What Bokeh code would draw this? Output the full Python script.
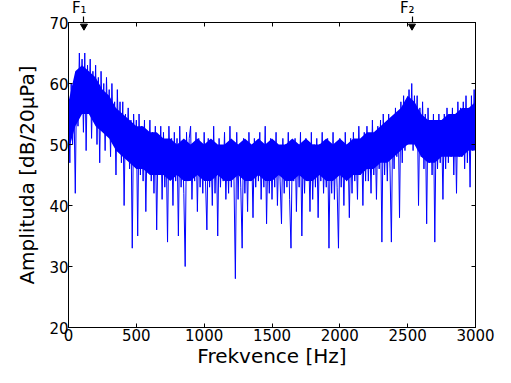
from bokeh.plotting import figure
from bokeh.models import Range1d, LinearAxis, FixedTicker
from bokeh.embed import file_html
from bokeh.resources import INLINE

# frequency grid (Hz), 10 Hz step
freq = list(range(0, 3001, 10))

# amplitude values (dB re 20 uPa), 10 Hz apart
amp = [
    55, 47, 60, 50, 57, 42, 61, 53, 65, 56,   # 0-90
    64, 52, 65, 49, 63, 55, 64, 51, 62, 54,   # 100-190
    63, 50, 61, 47, 62, 53, 60, 49, 61, 52,   # 200-290
    59, 48, 60, 51, 57, 45, 59, 50, 57, 47,   # 300-390
    57, 40, 55, 48, 56, 46, 54, 33, 55, 47,   # 400-490
    54, 35, 55, 45, 53, 44, 54, 39, 52, 46,   # 500-590
    54, 44, 52, 42, 53, 36, 51, 45, 53, 41,   # 600-690
    52, 43, 50, 34, 53, 45, 51, 40, 52, 44,   # 700-790
    51, 35, 53, 43, 50, 42, 30, 52, 44, 51,   # 800-890
    53, 41, 50, 44, 52, 39, 51, 43, 49, 42,   # 900-990
    52, 44, 36, 51, 43, 50, 40, 53, 42, 50,   # 1000-1090
    35, 51, 43, 49, 44, 52, 41, 50, 42, 53,   # 1100-1190
    43, 50, 44, 28, 52, 41, 50, 43, 33, 51,   # 1200-1290
    42, 50, 39, 52, 44, 49, 38, 51, 43, 50,   # 1300-1390
    44, 52, 41, 50, 43, 53, 37, 50, 42, 51,   # 1400-1490
    41, 50, 43, 52, 40, 49, 44, 37, 51, 42,   # 1500-1590
    50, 43, 52, 41, 33, 50, 44, 51, 39, 50,   # 1600-1690
    43, 52, 35, 50, 42, 51, 44, 49, 39, 52,   # 1700-1790
    41, 50, 43, 51, 38, 50, 44, 52, 42, 49,   # 1800-1890
    43, 51, 33, 50, 42, 52, 41, 50, 43, 33,   # 1900-1990
    51, 43, 50, 40, 52, 44, 50, 38, 51, 42,   # 2000-2090
    52, 44, 50, 41, 53, 45, 51, 40, 52, 44,   # 2100-2190
    53, 44, 51, 42, 54, 45, 52, 41, 53, 46,   # 2200-2290
    54, 34, 55, 45, 53, 44, 55, 46, 34, 54,   # 2300-2390
    46, 56, 48, 55, 38, 57, 47, 58, 49, 57,   # 2400-2490
    50, 59, 51, 60, 49, 58, 50, 58, 40, 56,   # 2500-2590
    48, 57, 46, 55, 37, 56, 47, 54, 45, 55,   # 2600-2690
    34, 54, 46, 55, 47, 53, 41, 55, 46, 56,   # 2700-2790
    47, 55, 48, 56, 45, 55, 42, 57, 48, 56,   # 2800-2890
    48, 57, 46, 58, 47, 56, 43, 58, 49, 59,   # 2900-2990
    50,                                       # 3000
]

# dense (solid) core of the trace, 50 Hz apart
core_freq = list(range(0, 3001, 50))
core_hi = [57, 62, 63, 62, 61, 59, 58, 56, 55, 54,
           53, 53, 52, 52, 51, 51, 50, 51, 50, 51,
           50, 51, 50, 50, 51, 50, 51, 50, 51, 50,
           51, 50, 50, 51, 50, 51, 50, 50, 51, 50,
           51, 50, 51, 51, 52, 52, 53, 54, 55, 56,
           58, 57, 55, 54, 54, 54, 55, 55, 56, 56,
           57]
core_lo = [49, 53, 55, 55, 53, 52, 51, 49, 48, 47,
           46, 46, 45, 45, 45, 44, 45, 44, 44, 45,
           44, 44, 45, 44, 44, 45, 44, 44, 45, 44,
           44, 45, 44, 44, 45, 44, 44, 45, 44, 44,
           45, 44, 45, 45, 46, 46, 47, 47, 48, 49,
           50, 50, 48, 47, 47, 48, 48, 48, 48, 49,
           49]

# marker annotations (F1, F2)
mark_freq = [114, 2532]
mark_text = ["F\u2081\u00a0\u00a0", "F\u2082\u00a0\u00a0"]
mark_level = [69.4, 69.4]

x_ticks = [0, 500, 1000, 1500, 2000, 2500, 3000]
y_ticks = [20, 30, 40, 50, 60, 70]

FONT = "DejaVu Sans"
BLUE = "#0000ff"

p = figure(
    frame_width=407, frame_height=305,
    min_border_left=68, min_border_right=28, min_border_top=23, min_border_bottom=47,
    x_range=Range1d(0, 3000), y_range=Range1d(20, 70),
    output_backend="svg", toolbar_location=None,
    background_fill_color="white", border_fill_color="white",
)
p.styles = {"margin-top": "-5px"}
p.outline_line_color = "black"
p.outline_line_width = 1
p.grid.visible = False

p.varea(x=core_freq, y1=core_lo, y2=core_hi, fill_color=BLUE)
p.line(freq, amp, line_color=BLUE, line_width=1)

# arrow heads just inside the top of the frame
p.scatter(mark_freq, mark_level, marker="inverted_triangle", size=7,
          fill_color="black", line_color="black")

p.xaxis.ticker = FixedTicker(ticks=x_ticks)
p.yaxis.ticker = FixedTicker(ticks=y_ticks)

for ax in [p.xaxis[0], p.yaxis[0]]:
    ax.major_tick_in = 4
    ax.major_tick_out = 0
    ax.minor_tick_line_color = None
    ax.major_label_text_font = FONT
    ax.major_label_text_font_size = "15px"
    ax.major_label_text_color = "black"
    ax.axis_label_text_font = FONT
    ax.axis_label_text_font_size = "20px"
    ax.axis_label_text_font_style = "normal"
    ax.axis_label_text_color = "black"
    ax.axis_line_color = "black"
    ax.major_tick_line_color = "black"

p.xaxis.axis_label = "Frekvence [Hz]"
p.yaxis.axis_label = "Amplituda [dB/20μPa]"
p.xaxis.major_label_standoff = 1
p.yaxis.major_label_standoff = 0
p.xaxis.axis_label_standoff = 0
p.yaxis.axis_label_standoff = 7

# top axis: arrow shafts + F labels as major ticks, regular inward ticks as minor ticks
top = LinearAxis(ticker=FixedTicker(ticks=mark_freq, minor_ticks=x_ticks))
top.major_label_overrides = {f: t for f, t in zip(mark_freq, mark_text)}
top.major_tick_in = 0
top.major_tick_out = 6
top.major_tick_line_width = 1.2
top.major_tick_line_color = "black"
top.minor_tick_in = 4
top.minor_tick_out = 0
top.minor_tick_line_color = "black"
top.major_label_standoff = 0
top.major_label_text_font = FONT
top.major_label_text_font_size = "15px"
top.major_label_text_color = "black"
top.axis_line_color = "black"
p.add_layout(top, "above")

# right axis: inward ticks only
right = LinearAxis(ticker=FixedTicker(ticks=[], minor_ticks=y_ticks))
right.minor_tick_in = 4
right.minor_tick_out = 0
right.minor_tick_line_color = "black"
right.major_tick_line_color = None
right.axis_line_color = "black"
p.add_layout(right, "right")

open("out.html", "w").write(file_html(p, INLINE))
